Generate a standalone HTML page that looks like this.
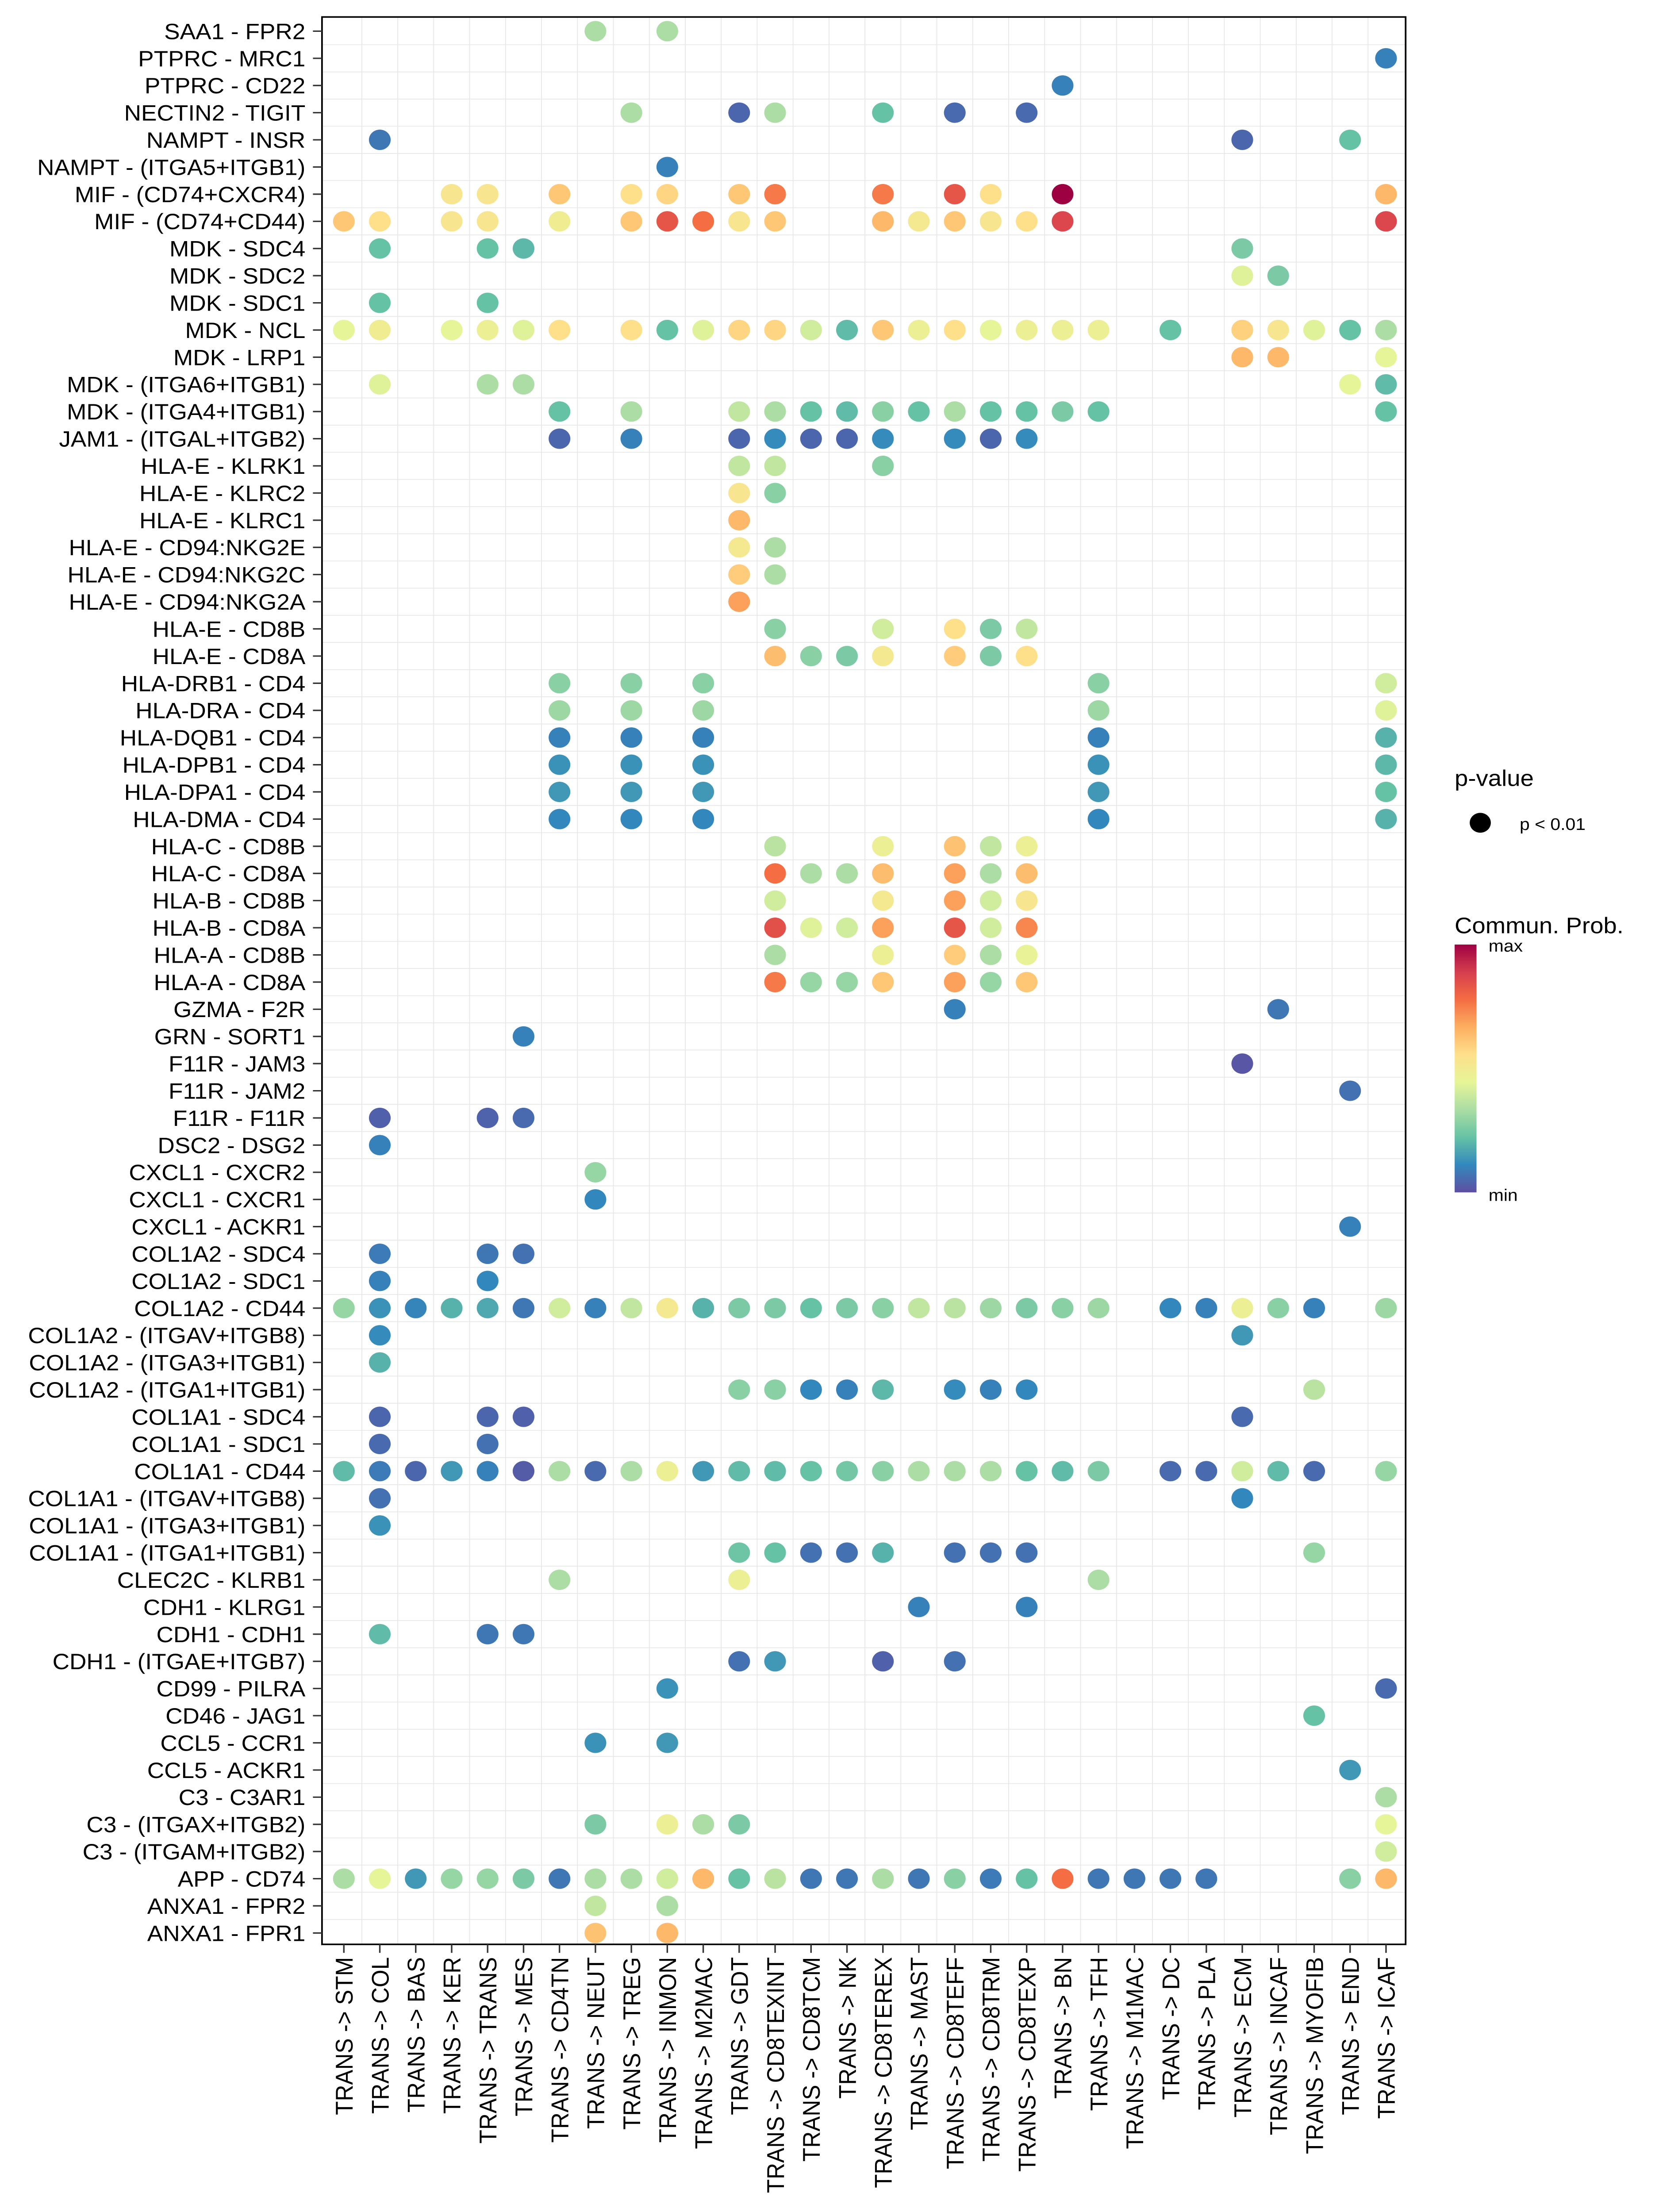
<!DOCTYPE html>
<html><head><meta charset="utf-8"><style>html,body{margin:0;padding:0;background:#fff;width:100%;height:100%;overflow:hidden}svg{display:block;position:absolute;left:0;top:0;width:100vw;height:100vh}</style></head>
<body>
<svg id="chart" xmlns="http://www.w3.org/2000/svg" viewBox="0 0 1100 1562" preserveAspectRatio="none" font-family="Liberation Sans, sans-serif"></svg>
<script>
const columns=["TRANS -> STM","TRANS -> COL","TRANS -> BAS","TRANS -> KER","TRANS -> TRANS","TRANS -> MES","TRANS -> CD4TN","TRANS -> NEUT","TRANS -> TREG","TRANS -> INMON","TRANS -> M2MAC","TRANS -> GDT","TRANS -> CD8TEXINT","TRANS -> CD8TCM","TRANS -> NK","TRANS -> CD8TEREX","TRANS -> MAST","TRANS -> CD8TEFF","TRANS -> CD8TRM","TRANS -> CD8TEXP","TRANS -> BN","TRANS -> TFH","TRANS -> M1MAC","TRANS -> DC","TRANS -> PLA","TRANS -> ECM","TRANS -> INCAF","TRANS -> MYOFIB","TRANS -> END","TRANS -> ICAF"];
const rows=["SAA1 - FPR2","PTPRC - MRC1","PTPRC - CD22","NECTIN2 - TIGIT","NAMPT - INSR","NAMPT - (ITGA5+ITGB1)","MIF - (CD74+CXCR4)","MIF - (CD74+CD44)","MDK - SDC4","MDK - SDC2","MDK - SDC1","MDK - NCL","MDK - LRP1","MDK - (ITGA6+ITGB1)","MDK - (ITGA4+ITGB1)","JAM1 - (ITGAL+ITGB2)","HLA-E - KLRK1","HLA-E - KLRC2","HLA-E - KLRC1","HLA-E - CD94:NKG2E","HLA-E - CD94:NKG2C","HLA-E - CD94:NKG2A","HLA-E - CD8B","HLA-E - CD8A","HLA-DRB1 - CD4","HLA-DRA - CD4","HLA-DQB1 - CD4","HLA-DPB1 - CD4","HLA-DPA1 - CD4","HLA-DMA - CD4","HLA-C - CD8B","HLA-C - CD8A","HLA-B - CD8B","HLA-B - CD8A","HLA-A - CD8B","HLA-A - CD8A","GZMA - F2R","GRN - SORT1","F11R - JAM3","F11R - JAM2","F11R - F11R","DSC2 - DSG2","CXCL1 - CXCR2","CXCL1 - CXCR1","CXCL1 - ACKR1","COL1A2 - SDC4","COL1A2 - SDC1","COL1A2 - CD44","COL1A2 - (ITGAV+ITGB8)","COL1A2 - (ITGA3+ITGB1)","COL1A2 - (ITGA1+ITGB1)","COL1A1 - SDC4","COL1A1 - SDC1","COL1A1 - CD44","COL1A1 - (ITGAV+ITGB8)","COL1A1 - (ITGA3+ITGB1)","COL1A1 - (ITGA1+ITGB1)","CLEC2C - KLRB1","CDH1 - KLRG1","CDH1 - CDH1","CDH1 - (ITGAE+ITGB7)","CD99 - PILRA","CD46 - JAG1","CCL5 - CCR1","CCL5 - ACKR1","C3 - C3AR1","C3 - (ITGAX+ITGB2)","C3 - (ITGAM+ITGB2)","APP - CD74","ANXA1 - FPR2","ANXA1 - FPR1"];
// values per row: [columnIndex, commProb(0..1)]
const values=[
[[7,.45],[9,.45]],
[[29,.15]],
[[20,.15]],
[[8,.45],[11,.07],[12,.45],[15,.35],[17,.08],[19,.08]],
[[1,.12],[25,.07],[28,.35]],
[[9,.15]],
[[3,.58],[4,.58],[6,.65],[8,.6],[9,.62],[11,.65],[12,.78],[15,.78],[17,.85],[18,.6],[20,1],[29,.68]],
[[0,.65],[1,.6],[3,.58],[4,.58],[6,.56],[8,.65],[9,.85],[10,.8],[11,.58],[12,.65],[15,.68],[16,.57],[17,.65],[18,.58],[19,.6],[20,.88],[29,.88]],
[[1,.35],[4,.35],[5,.32],[25,.38]],
[[25,.52],[26,.38]],
[[1,.35],[4,.35]],
[[0,.53],[1,.56],[3,.53],[4,.55],[5,.52],[6,.6],[8,.6],[9,.35],[10,.52],[11,.62],[12,.62],[13,.5],[14,.33],[15,.65],[16,.55],[17,.6],[18,.53],[19,.55],[20,.55],[21,.55],[23,.35],[25,.63],[26,.58],[27,.52],[28,.35],[29,.45]],
[[25,.68],[26,.68],[29,.53]],
[[1,.52],[4,.45],[5,.45],[28,.53],[29,.33]],
[[6,.35],[8,.45],[11,.48],[12,.45],[13,.35],[14,.33],[15,.4],[16,.35],[17,.45],[18,.35],[19,.35],[20,.38],[21,.35],[29,.35]],
[[6,.07],[8,.15],[11,.07],[12,.18],[13,.07],[14,.07],[15,.18],[17,.18],[18,.07],[19,.18]],
[[11,.48],[12,.48],[15,.4]],
[[11,.58],[12,.4]],
[[11,.68]],
[[11,.57],[12,.45]],
[[11,.64],[12,.45]],
[[11,.72]],
[[12,.4],[15,.5],[17,.6],[18,.38],[19,.48]],
[[12,.67],[13,.4],[14,.38],[15,.57],[17,.64],[18,.38],[19,.6]],
[[6,.4],[8,.4],[10,.4],[21,.4],[29,.5]],
[[6,.43],[8,.43],[10,.43],[21,.43],[29,.52]],
[[6,.15],[8,.15],[10,.15],[21,.15],[29,.3]],
[[6,.2],[8,.2],[10,.2],[21,.2],[29,.32]],
[[6,.22],[8,.22],[10,.22],[21,.22],[29,.35]],
[[6,.17],[8,.17],[10,.17],[21,.17],[29,.3]],
[[12,.47],[15,.55],[17,.66],[18,.48],[19,.55]],
[[12,.8],[13,.45],[14,.45],[15,.67],[17,.72],[18,.45],[19,.67]],
[[12,.5],[15,.57],[17,.72],[18,.5],[19,.58]],
[[12,.86],[13,.52],[14,.5],[15,.72],[17,.85],[18,.5],[19,.76]],
[[12,.45],[15,.55],[17,.64],[18,.45],[19,.54]],
[[12,.78],[13,.42],[14,.42],[15,.65],[17,.72],[18,.42],[19,.65]],
[[17,.15],[26,.12]],
[[5,.15]],
[[25,.02]],
[[28,.1]],
[[1,.05],[4,.06],[5,.08]],
[[1,.15]],
[[7,.42]],
[[7,.17]],
[[28,.15]],
[[1,.13],[4,.12],[5,.1]],
[[1,.15],[4,.17]],
[[0,.42],[1,.2],[2,.16],[3,.3],[4,.27],[5,.12],[6,.5],[7,.15],[8,.48],[9,.57],[10,.3],[11,.38],[12,.38],[13,.35],[14,.38],[15,.4],[16,.48],[17,.47],[18,.43],[19,.38],[20,.4],[21,.43],[23,.17],[24,.15],[25,.55],[26,.4],[27,.15],[29,.43]],
[[1,.18],[25,.22]],
[[1,.3]],
[[11,.4],[12,.4],[13,.17],[14,.15],[15,.32],[17,.18],[18,.15],[19,.17],[27,.47]],
[[1,.07],[4,.07],[5,.05],[25,.08]],
[[1,.08],[4,.1]],
[[0,.33],[1,.13],[2,.07],[3,.22],[4,.15],[5,.04],[6,.45],[7,.08],[8,.45],[9,.55],[10,.22],[11,.33],[12,.33],[13,.35],[14,.37],[15,.4],[16,.45],[17,.45],[18,.45],[19,.35],[20,.33],[21,.38],[23,.08],[24,.08],[25,.5],[26,.33],[27,.08],[29,.42]],
[[1,.1],[25,.17]],
[[1,.2]],
[[11,.36],[12,.35],[13,.1],[14,.1],[15,.3],[17,.1],[18,.1],[19,.1],[27,.42]],
[[6,.45],[11,.55],[21,.45]],
[[16,.15],[19,.15]],
[[1,.33],[4,.12],[5,.12]],
[[11,.1],[12,.22],[15,.05],[17,.1]],
[[9,.2],[29,.08]],
[[27,.35]],
[[7,.2],[9,.22]],
[[28,.22]],
[[29,.45]],
[[7,.38],[9,.55],[10,.45],[11,.38],[29,.53]],
[[29,.5]],
[[0,.45],[1,.53],[2,.22],[3,.42],[4,.42],[5,.38],[6,.12],[7,.45],[8,.45],[9,.5],[10,.68],[11,.35],[12,.47],[13,.12],[14,.12],[15,.45],[16,.12],[17,.4],[18,.13],[19,.35],[20,.8],[21,.12],[22,.12],[23,.12],[24,.12],[28,.4],[29,.68]],
[[7,.48],[9,.45]],
[[7,.66],[9,.68]]
];
const NS="http://www.w3.org/2000/svg";
const svg=document.getElementById('chart');
function mk(t,a,p){const e=document.createElementNS(NS,t);for(const k in a)e.setAttribute(k,a[k]);(p||svg).appendChild(e);return e;}
const stops=["#5E4FA2","#3288BD","#66C2A5","#ABDDA4","#E6F598","#FEE08B","#FDAE61","#F46D43","#D53E4F","#9E0142"];
const stopPos=[0,0.17,0.35,0.45,0.53,0.6,0.7,0.8,0.9,1];
function hex(h){return [1,3,5].map(i=>parseInt(h.substr(i,2),16));}
function color(v){v=Math.max(0,Math.min(1,v));let i=0;while(i<stops.length-2&&v>stopPos[i+1])i++;const f=(v-stopPos[i])/(stopPos[i+1]-stopPos[i]);const a=hex(stops[i]),b=hex(stops[i+1]);return 'rgb('+a.map((c,k)=>Math.round(c+(b[k]-c)*f)).join(',')+')';}
const L=213.5,R=932,T=12,B=1373;
const dx=(919-228)/(columns.length-1), dy=(1365-22)/(rows.length-1);
const xS=i=>228+i*dx;
const yS=j=>22+j*dy;
const grid=mk('g',{});


for(let i=0;i<columns.length-1;i++)mk('line',{x1:xS(i)+dx/2,x2:xS(i)+dx/2,y1:T,y2:B,stroke:'#e6e6e6','stroke-width':0.5},grid);
for(let j=0;j<rows.length-1;j++)mk('line',{x1:L,x2:R,y1:yS(j)+dy/2,y2:yS(j)+dy/2,stroke:'#e6e6e6','stroke-width':0.5},grid);
const dots=mk('g',{});


values.forEach((row,j)=>row.forEach(([i,v])=>{const c=mk('circle',{cx:xS(i),cy:yS(j),r:7.2,fill:color(v)},dots);

}));
const border=mk('rect',{x:L,y:T,width:R-L,height:B-T,fill:'none',stroke:'#000','stroke-width':1.1});


rows.forEach((r,j)=>{mk('line',{x1:L-6,x2:L,y1:yS(j),y2:yS(j),stroke:'#333','stroke-width':1});
const t=mk('text',{x:L-11,y:yS(j)+5.6,'text-anchor':'end','font-size':15.6,fill:'#000'});t.textContent=r;

});
columns.forEach((c,i)=>{mk('line',{x1:xS(i),x2:xS(i),y1:B,y2:B+6,stroke:'#333','stroke-width':1});
const t=mk('text',{x:0,y:0,'text-anchor':'end','font-size':16,fill:'#000',transform:`translate(${xS(i)+5.8},${B+9}) rotate(-90)`});t.textContent=c;

});
let t=mk('text',{x:964.5,y:555,'font-size':16});t.textContent='p-value';


let c=mk('circle',{cx:981.5,cy:581,r:7,fill:'#000'});


t=mk('text',{x:1007.6,y:586,'font-size':12});t.textContent='p < 0.01';


t=mk('text',{x:964.5,y:659,'font-size':16});t.textContent='Commun. Prob.';


const defs=mk('defs',{});const g=mk('linearGradient',{id:'cb',x1:0,y1:1,x2:0,y2:0},defs);
stops.forEach((s,k)=>mk('stop',{offset:k/(stops.length-1),'stop-color':s},g));
const cb=mk('rect',{x:964.5,y:667,width:14.5,height:175,fill:'url(#cb)'});


t=mk('text',{x:987,y:672,'font-size':12});t.textContent='max';


t=mk('text',{x:987,y:848,'font-size':12});t.textContent='min';


</script>
</body></html>
